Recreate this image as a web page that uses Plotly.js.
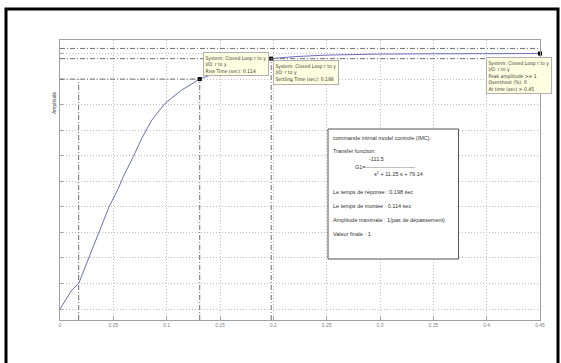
<!DOCTYPE html>
<html>
<head>
<meta charset="utf-8">
<script src="https://cdn.plot.ly/plotly-3.0.1.min.js"></script>
<style>html,body{margin:0;padding:0;background:#fff;}#chart{width:561px;height:363px;}</style>
</head>
<body>
<div id="chart"></div>
<script>
// ---- data ----
const time = [0, 0.011, 0.0175, 0.03, 0.046, 0.0547, 0.0593, 0.0687, 0.0766, 0.086, 0.0984, 0.114, 0.131, 0.15, 0.165, 0.18, 0.198, 0.22, 0.25, 0.3, 0.35, 0.4, 0.45];
const amplitude = [0, 0.074, 0.10, 0.23, 0.40, 0.472, 0.518, 0.596, 0.668, 0.739, 0.805, 0.857, 0.90, 0.93, 0.948, 0.964, 0.98, 0.988, 0.994, 0.998, 0.999, 1.0, 1.0];
const tickVals = [0, 0.05, 0.1, 0.15, 0.2, 0.25, 0.3, 0.35, 0.4, 0.45];
const tickText = ["0", "0.05", "0.1", "0.15", "0.2", "0.25", "0.3", "0.35", "0.4", "0.45"];
const charTimes = [0.131, 0.198, 0.45];      // rise end, settling, peak
const charValues = [0.90, 0.98, 1.0];
const riseStart = 0.0175;
const bandHigh = 1.02, bandLow = 0.98, riseLevel = 0.9;
const xRange = [0, 0.45];
const yRange = [-0.043, 1.053];

// ---- layout helpers (pixel -> paper) ----
const L = 60, R = 540, T = 40, B = 320;
const px = v => (v - L) / (R - L);
const py = v => (B - v) / (B - T);

const dashColor = '#6e6e6e';
const dashPattern = '5px,2px,1px,2px';
const vline = (x, y1) => ({type:'line', xref:'x', yref:'y', x0:x, x1:x, y0:yRange[0], y1:y1, line:{color:dashColor, width:1, dash:dashPattern}});
const hline = (y, x1) => ({type:'line', xref:'x', yref:'y', x0:xRange[0], x1:x1, y0:y, y1:y, line:{color:dashColor, width:1, dash:dashPattern}});

const shapes = [
  hline(bandHigh, xRange[1]),
  hline(bandLow, xRange[1]),
  hline(riseLevel, charTimes[0]),
  vline(riseStart, riseLevel),
  vline(charTimes[0], riseLevel),
  vline(charTimes[1], bandLow),
  // info box
  {type:'rect', xref:'paper', yref:'paper', x0:px(328), x1:px(458.5), y0:py(259), y1:py(129), fillcolor:'#ffffff', line:{color:'#555555', width:1}, layer:'above'},
  // outer black frame
  {type:'rect', xref:'paper', yref:'paper', x0:px(6), x1:px(558), y0:py(380), y1:py(9), line:{color:'#000000', width:3}, fillcolor:'rgba(0,0,0,0)'}
];

const tipFont = {family:'Liberation Sans Narrow, DejaVu Sans Condensed, Liberation Sans, Arial, sans-serif', size:5, color:'#333333'};
const tip = (x, y, text) => ({xref:'paper', yref:'paper', x:px(x), y:py(y), xanchor:'left', yanchor:'top', align:'left', text:text, showarrow:false, bgcolor:'#ffffe1', bordercolor:'#b0b0b0', borderwidth:1, borderpad:1.5, font:tipFont});
const infoFont = {family:'Liberation Sans, Arial, sans-serif', size:5.5, color:'#333333'};
const info = (x, y, text, anchor) => ({xref:'paper', yref:'paper', x:px(x), y:py(y), xanchor:anchor || 'left', yanchor:'middle', text:text, showarrow:false, font:infoFont});

const annotations = [
  tip(202.5, 51.7, 'System: Closed Loop r to y<br>I/O: r to y<br>Rise Time (sec): 0.114'),
  tip(273, 60, 'System: Closed Loop r to y<br>I/O: r to y<br>Settling Time (sec): 0.198'),
  tip(486, 57, 'System: Closed Loop r to y<br>I/O: r to y<br>Peak amplitude >= 1<br>Overshoot (%): 0<br>At time (sec) > 0.45'),
  info(331, 137.7, 'commande intrnal model controle (IMC) :'),
  info(331, 151, 'Transfer function:'),
  info(376, 159, '-111.5', 'center'),
  info(353, 166.7, 'G1=---------------------------'),
  info(371.7, 174.3, 's<sup>2</sup> + 11.25 s + 79.14'),
  info(331, 191.7, 'Le temps de réponse : 0.198 sec'),
  info(331, 206, 'Le temps de montée : 0.114 sec'),
  info(331, 220.3, 'Amplitude maximale : 1(pas de dépassement)'),
  info(331, 234.3, 'Valeur finale : 1'),
  {xref:'paper', yref:'paper', x:px(54), y:py(103), xanchor:'center', yanchor:'middle', text:'Amplitude', textangle:-90, showarrow:false, font:{family:'Liberation Sans, Arial, sans-serif', size:5, color:'#444444'}}
];

const traces = [
  {x: time, y: amplitude, type:'scatter', mode:'lines', line:{color:'#6b6bbf', width:1}, hoverinfo:'skip'},
  {x: charTimes, y: charValues, type:'scatter', mode:'markers', marker:{symbol:'square', size:4, color:'#000000'}, cliponaxis:false, hoverinfo:'skip'}
];

const axisCommon = {showline:true, linecolor:'#a0a0a0', linewidth:1, mirror:true, showgrid:true, gridcolor:'#c0c0c0', griddash:'1px,2px', gridwidth:1, zeroline:false, ticks:'inside', ticklen:3, tickcolor:'#a0a0a0', fixedrange:true};

const layout = {
  width:561, height:363,
  margin:{l:L, r:561-R, t:T, b:363-B, pad:0},
  paper_bgcolor:'#ffffff', plot_bgcolor:'#ffffff',
  showlegend:false,
  font:{family:'Liberation Sans, Arial, sans-serif', size:5, color:'#808080'},
  xaxis: Object.assign({}, axisCommon, {range:xRange, tickmode:'array', tickvals:tickVals, ticktext:tickText, tickfont:{size:5, color:'#808080'}}),
  yaxis: Object.assign({}, axisCommon, {range:yRange, tick0:0, dtick:0.1, showticklabels:false}),
  shapes: shapes,
  annotations: annotations
};

Plotly.newPlot('chart', traces, layout, {staticPlot:true, displayModeBar:false});
</script>
</body>
</html>
